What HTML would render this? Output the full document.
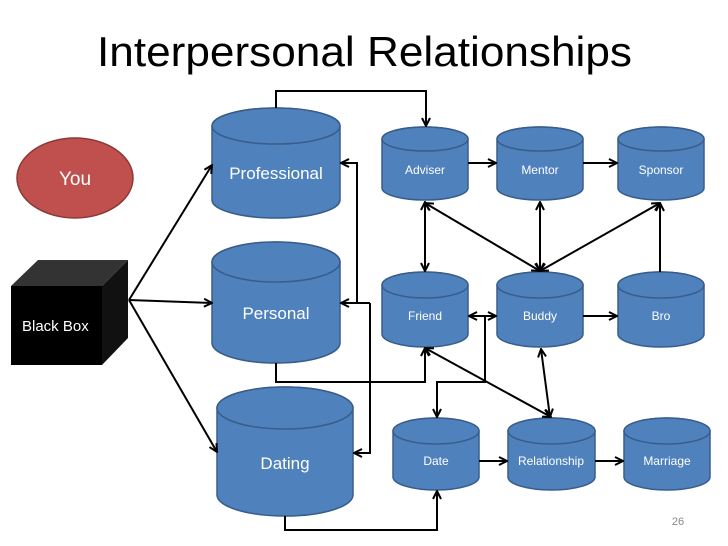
<!DOCTYPE html>
<html><head><meta charset="utf-8"><style>
html,body{margin:0;padding:0;background:#fff;}
svg{display:block;}
</style></head><body>
<svg width="728" height="546" viewBox="0 0 728 546" xmlns="http://www.w3.org/2000/svg" font-family="Liberation Sans, sans-serif">
<defs>
<marker id="a" viewBox="0 0 10 10" refX="9" refY="5" markerWidth="5" markerHeight="5" orient="auto-start-reverse">
<path d="M1,1 L9,5 L1,9" fill="none" stroke="#000" stroke-width="2"/>
</marker>
</defs>
<text x="97" y="66" font-size="42" textLength="535" lengthAdjust="spacingAndGlyphs" fill="#000">Interpersonal Relationships</text>

<ellipse cx="75" cy="178" rx="58" ry="40" fill="#c0504d" stroke="#8c3836" stroke-width="1.5"/>
<text x="75" y="185" font-size="19" fill="#fff" text-anchor="middle">You</text>

<polygon points="11,286 38,260 128,260 102,286" fill="#333"/>
<polygon points="102,286 128,260 128,338 102,365" fill="#111"/>
<rect x="11" y="286" width="91" height="79" fill="#000"/>
<text x="22" y="331" font-size="15" fill="#fff">Black Box</text>

<g fill="#4f81bd" stroke="#385d8a" stroke-width="1.5">
<path d="M212,126 V200 A64,18 0 0 0 340,200 V126 A64,18 0 0 0 212,126 Z"/><ellipse cx="276" cy="126" rx="64" ry="18"/>
<path d="M212,262 V343 A64,20 0 0 0 340,343 V262 A64,20 0 0 0 212,262 Z"/><ellipse cx="276" cy="262" rx="64" ry="20"/>
<path d="M217,408 V495 A68,21 0 0 0 353,495 V408 A68,21 0 0 0 217,408 Z"/><ellipse cx="285" cy="408" rx="68" ry="21"/>

<path d="M382,139 V188 A43,12 0 0 0 468,188 V139 A43,12 0 0 0 382,139 Z"/><ellipse cx="425" cy="139" rx="43" ry="12"/>
<path d="M497,139 V188 A43,12 0 0 0 583,188 V139 A43,12 0 0 0 497,139 Z"/><ellipse cx="540" cy="139" rx="43" ry="12"/>
<path d="M618,139 V188 A43,12 0 0 0 704,188 V139 A43,12 0 0 0 618,139 Z"/><ellipse cx="661" cy="139" rx="43" ry="12"/>

<path d="M382,285 V334 A43,13 0 0 0 468,334 V285 A43,13 0 0 0 382,285 Z"/><ellipse cx="425" cy="285" rx="43" ry="13"/>
<path d="M497,285 V334 A43,13 0 0 0 583,334 V285 A43,13 0 0 0 497,285 Z"/><ellipse cx="540" cy="285" rx="43" ry="13"/>
<path d="M618,285 V334 A43,13 0 0 0 704,334 V285 A43,13 0 0 0 618,285 Z"/><ellipse cx="661" cy="285" rx="43" ry="13"/>

<path d="M393,431 V477 A43,13 0 0 0 479,477 V431 A43,13 0 0 0 393,431 Z"/><ellipse cx="436" cy="431" rx="43" ry="13"/>
<path d="M508,431 V477 A43.5,13 0 0 0 595,477 V431 A43.5,13 0 0 0 508,431 Z"/><ellipse cx="551.5" cy="431" rx="43.5" ry="13"/>
<path d="M624,431 V477 A43,13 0 0 0 710,477 V431 A43,13 0 0 0 624,431 Z"/><ellipse cx="667" cy="431" rx="43" ry="13"/>
</g>

<g fill="#fff" text-anchor="middle">
<text x="276" y="179" font-size="17">Professional</text>
<text x="276" y="319" font-size="17">Personal</text>
<text x="285" y="469" font-size="17">Dating</text>
<g font-size="12">
<text x="425" y="174">Adviser</text>
<text x="540" y="174">Mentor</text>
<text x="661" y="174">Sponsor</text>
<text x="425" y="320">Friend</text>
<text x="540" y="320">Buddy</text>
<text x="661" y="320">Bro</text>
<text x="436" y="465">Date</text>
<text x="551" y="465">Relationship</text>
<text x="667" y="465">Marriage</text>
</g>
</g>

<g fill="none" stroke="#000" stroke-width="2">
<path d="M129,300 L212,165" marker-end="url(#a)"/>
<path d="M129,300 L212,303" marker-end="url(#a)"/>
<path d="M129,300 L217,452" marker-end="url(#a)"/>

<path d="M276,108 V91 H426 V126" marker-end="url(#a)"/>
<path d="M357,303 V163 H341" marker-end="url(#a)"/>
<path d="M370,303 H341" marker-end="url(#a)"/>
<path d="M370,303 V453 H354" marker-end="url(#a)"/>
<path d="M276,363 V382 H425 V348" marker-end="url(#a)"/>
<path d="M485,316 V382 H437 V417" marker-end="url(#a)"/>
<path d="M285,516 V530 H437 V491" marker-end="url(#a)"/>

<path d="M468,163 H496" marker-end="url(#a)"/>
<path d="M583,163 H617" marker-end="url(#a)"/>
<path d="M425,202 V271" marker-start="url(#a)" marker-end="url(#a)"/>
<path d="M425,203 L540,271" marker-start="url(#a)" marker-end="url(#a)"/>
<path d="M540,202 V271" marker-start="url(#a)" marker-end="url(#a)"/>
<path d="M660,203 L540,271" marker-start="url(#a)" marker-end="url(#a)"/>
<path d="M660,272 V203" marker-end="url(#a)"/>
<path d="M469,316 H496" marker-start="url(#a)" marker-end="url(#a)"/>
<path d="M583,316 H617" marker-end="url(#a)"/>
<path d="M425,348 L551,417" marker-start="url(#a)" marker-end="url(#a)"/>
<path d="M541,349 L550,417" marker-start="url(#a)" marker-end="url(#a)"/>
<path d="M479,461 H507" marker-end="url(#a)"/>
<path d="M595,461 H623" marker-end="url(#a)"/>
</g>

<text x="678" y="525" font-size="11" fill="#888" text-anchor="middle">26</text>
</svg>
</body></html>
